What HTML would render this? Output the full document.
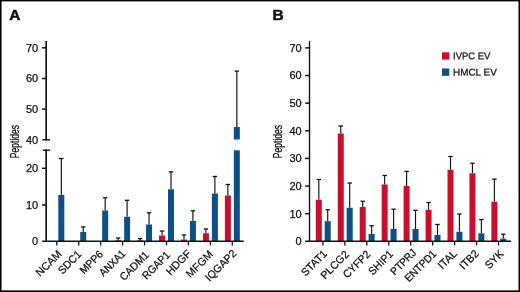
<!DOCTYPE html>
<html><head><meta charset="utf-8"><title>Figure</title>
<style>
html,body{margin:0;padding:0;background:#fff;}
svg{display:block;will-change:transform;font-family:"Liberation Sans",sans-serif;fill:#111;}
text{stroke:#111;stroke-width:0.25px;}
</style></head><body>
<svg width="520" height="292" viewBox="0 0 520 292">
<rect x="0" y="0" width="520" height="292" fill="#fff"/>
<text x="9.20" y="20.40" font-size="15.5" text-anchor="start" font-weight="bold" style="stroke-width:0.5px">A</text>
<line x1="46.15" y1="41.10" x2="46.15" y2="140.50" stroke="#111" stroke-width="1.65"/>
<line x1="42.30" y1="139.80" x2="50.00" y2="139.80" stroke="#111" stroke-width="1.4"/>
<line x1="46.15" y1="149.50" x2="46.15" y2="241.20" stroke="#111" stroke-width="1.65"/>
<line x1="42.80" y1="150.20" x2="50.00" y2="150.20" stroke="#111" stroke-width="1.4"/>
<line x1="42.00" y1="47.80" x2="46.15" y2="47.80" stroke="#111" stroke-width="1.5"/>
<text x="38.20" y="51.75" font-size="11" text-anchor="end" font-weight="normal" >70</text>
<line x1="42.00" y1="78.50" x2="46.15" y2="78.50" stroke="#111" stroke-width="1.5"/>
<text x="38.20" y="82.45" font-size="11" text-anchor="end" font-weight="normal" >60</text>
<line x1="42.00" y1="109.10" x2="46.15" y2="109.10" stroke="#111" stroke-width="1.5"/>
<text x="38.20" y="113.05" font-size="11" text-anchor="end" font-weight="normal" >50</text>
<text x="38.20" y="143.75" font-size="11" text-anchor="end" font-weight="normal" >40</text>
<line x1="42.00" y1="168.30" x2="46.15" y2="168.30" stroke="#111" stroke-width="1.5"/>
<text x="38.20" y="172.25" font-size="11" text-anchor="end" font-weight="normal" >20</text>
<line x1="42.00" y1="205.00" x2="46.15" y2="205.00" stroke="#111" stroke-width="1.5"/>
<text x="38.20" y="208.95" font-size="11" text-anchor="end" font-weight="normal" >10</text>
<text x="38.20" y="245.15" font-size="11" text-anchor="end" font-weight="normal" >0</text>
<text transform="translate(18.9,158.2) rotate(-90) scale(0.715,1)" font-size="12">Peptides</text>
<line x1="56.80" y1="241.20" x2="56.80" y2="245.40" stroke="#111" stroke-width="1.3"/>
<line x1="61.30" y1="158.50" x2="61.30" y2="195.00" stroke="#111" stroke-width="1.15"/>
<line x1="59.10" y1="158.50" x2="63.50" y2="158.50" stroke="#111" stroke-width="1.3"/>
<rect x="58.30" y="195.00" width="6.00" height="46.20" fill="#0e4f85"/>
<text transform="translate(62.40,254.60) rotate(-45)" font-size="10.8" text-anchor="end" textLength="31.80" lengthAdjust="spacingAndGlyphs">NCAM</text>
<line x1="78.74" y1="241.20" x2="78.74" y2="245.40" stroke="#111" stroke-width="1.3"/>
<line x1="83.24" y1="226.90" x2="83.24" y2="232.00" stroke="#111" stroke-width="1.15"/>
<line x1="81.04" y1="226.90" x2="85.44" y2="226.90" stroke="#111" stroke-width="1.3"/>
<rect x="80.24" y="232.00" width="6.00" height="9.20" fill="#0e4f85"/>
<text transform="translate(82.04,255.00) rotate(-45)" font-size="10.8" text-anchor="end" textLength="27.80" lengthAdjust="spacingAndGlyphs">SDC1</text>
<line x1="100.68" y1="241.20" x2="100.68" y2="245.40" stroke="#111" stroke-width="1.3"/>
<line x1="105.18" y1="197.80" x2="105.18" y2="210.50" stroke="#111" stroke-width="1.15"/>
<line x1="102.98" y1="197.80" x2="107.38" y2="197.80" stroke="#111" stroke-width="1.3"/>
<rect x="102.18" y="210.50" width="6.00" height="30.70" fill="#0e4f85"/>
<text transform="translate(103.68,255.00) rotate(-45)" font-size="10.8" text-anchor="end" textLength="27.71" lengthAdjust="spacingAndGlyphs">MPP6</text>
<line x1="122.62" y1="241.20" x2="122.62" y2="245.40" stroke="#111" stroke-width="1.3"/>
<rect x="115.17" y="240.30" width="6.00" height="0.90" fill="#c8102e"/>
<line x1="118.17" y1="238.00" x2="118.17" y2="240.50" stroke="#111" stroke-width="1.15"/>
<line x1="115.97" y1="238.00" x2="120.37" y2="238.00" stroke="#111" stroke-width="1.3"/>
<line x1="127.12" y1="200.30" x2="127.12" y2="216.80" stroke="#111" stroke-width="1.15"/>
<line x1="124.92" y1="200.30" x2="129.32" y2="200.30" stroke="#111" stroke-width="1.3"/>
<rect x="124.12" y="216.80" width="6.00" height="24.40" fill="#0e4f85"/>
<text transform="translate(126.22,254.30) rotate(-45)" font-size="10.8" text-anchor="end" textLength="32.11" lengthAdjust="spacingAndGlyphs">ANXA1</text>
<line x1="144.56" y1="241.20" x2="144.56" y2="245.40" stroke="#111" stroke-width="1.3"/>
<rect x="137.11" y="240.35" width="6.00" height="0.85" fill="#c8102e"/>
<line x1="140.11" y1="238.60" x2="140.11" y2="240.50" stroke="#111" stroke-width="1.15"/>
<line x1="137.91" y1="238.60" x2="142.31" y2="238.60" stroke="#111" stroke-width="1.3"/>
<line x1="149.06" y1="212.80" x2="149.06" y2="224.50" stroke="#111" stroke-width="1.15"/>
<line x1="146.86" y1="212.80" x2="151.26" y2="212.80" stroke="#111" stroke-width="1.3"/>
<rect x="146.06" y="224.50" width="6.00" height="16.70" fill="#0e4f85"/>
<text transform="translate(149.66,255.70) rotate(-45)" font-size="10.8" text-anchor="end" textLength="36.20" lengthAdjust="spacingAndGlyphs">CADM1</text>
<line x1="166.50" y1="241.20" x2="166.50" y2="245.40" stroke="#111" stroke-width="1.3"/>
<line x1="162.05" y1="231.00" x2="162.05" y2="235.50" stroke="#111" stroke-width="1.15"/>
<line x1="159.85" y1="231.00" x2="164.25" y2="231.00" stroke="#111" stroke-width="1.3"/>
<rect x="159.05" y="235.50" width="6.00" height="5.70" fill="#c8102e"/>
<line x1="171.00" y1="171.80" x2="171.00" y2="189.30" stroke="#111" stroke-width="1.15"/>
<line x1="168.80" y1="171.80" x2="173.20" y2="171.80" stroke="#111" stroke-width="1.3"/>
<rect x="168.00" y="189.30" width="6.00" height="51.90" fill="#0e4f85"/>
<text transform="translate(170.80,255.70) rotate(-45)" font-size="10.8" text-anchor="end" textLength="34.41" lengthAdjust="spacingAndGlyphs">RGAP1</text>
<line x1="188.44" y1="241.20" x2="188.44" y2="245.40" stroke="#111" stroke-width="1.3"/>
<line x1="183.99" y1="235.00" x2="183.99" y2="239.50" stroke="#111" stroke-width="1.15"/>
<line x1="181.79" y1="235.00" x2="186.19" y2="235.00" stroke="#111" stroke-width="1.3"/>
<rect x="180.99" y="239.50" width="6.00" height="1.70" fill="#c8102e"/>
<line x1="192.94" y1="210.80" x2="192.94" y2="221.00" stroke="#111" stroke-width="1.15"/>
<line x1="190.74" y1="210.80" x2="195.14" y2="210.80" stroke="#111" stroke-width="1.3"/>
<rect x="189.94" y="221.00" width="6.00" height="20.20" fill="#0e4f85"/>
<text transform="translate(191.74,254.30) rotate(-45)" font-size="10.8" text-anchor="end" textLength="30.20" lengthAdjust="spacingAndGlyphs">HDGF</text>
<line x1="210.38" y1="241.20" x2="210.38" y2="245.40" stroke="#111" stroke-width="1.3"/>
<line x1="205.93" y1="229.00" x2="205.93" y2="233.20" stroke="#111" stroke-width="1.15"/>
<line x1="203.73" y1="229.00" x2="208.13" y2="229.00" stroke="#111" stroke-width="1.3"/>
<rect x="202.93" y="233.20" width="6.00" height="8.00" fill="#c8102e"/>
<line x1="214.88" y1="176.50" x2="214.88" y2="193.50" stroke="#111" stroke-width="1.15"/>
<line x1="212.68" y1="176.50" x2="217.08" y2="176.50" stroke="#111" stroke-width="1.3"/>
<rect x="211.88" y="193.50" width="6.00" height="47.70" fill="#0e4f85"/>
<text transform="translate(213.68,255.00) rotate(-45)" font-size="10.8" text-anchor="end" textLength="32.99" lengthAdjust="spacingAndGlyphs">MFGM</text>
<line x1="232.32" y1="241.20" x2="232.32" y2="245.40" stroke="#111" stroke-width="1.3"/>
<line x1="227.87" y1="184.50" x2="227.87" y2="195.50" stroke="#111" stroke-width="1.15"/>
<line x1="225.67" y1="184.50" x2="230.07" y2="184.50" stroke="#111" stroke-width="1.3"/>
<rect x="224.87" y="195.50" width="6.00" height="45.70" fill="#c8102e"/>
<line x1="236.82" y1="71.10" x2="236.82" y2="127.00" stroke="#111" stroke-width="1.15"/>
<line x1="234.62" y1="71.10" x2="239.02" y2="71.10" stroke="#111" stroke-width="1.3"/>
<rect x="233.82" y="127.00" width="6.00" height="12.50" fill="#0e4f85"/>
<rect x="233.82" y="150.30" width="6.00" height="90.90" fill="#0e4f85"/>
<text transform="translate(237.22,254.20) rotate(-45)" font-size="10.8" text-anchor="end" textLength="39.22" lengthAdjust="spacingAndGlyphs">IQGAP2</text>
<text x="272.60" y="20.40" font-size="15.5" text-anchor="start" font-weight="bold" style="stroke-width:0.5px">B</text>
<line x1="309.50" y1="41.10" x2="309.50" y2="241.20" stroke="#111" stroke-width="1.4"/>
<text x="301.70" y="245.15" font-size="11" text-anchor="end" font-weight="normal" >0</text>
<line x1="305.20" y1="213.67" x2="309.50" y2="213.67" stroke="#111" stroke-width="1.5"/>
<text x="301.70" y="217.52" font-size="11" text-anchor="end" font-weight="normal" >10</text>
<line x1="305.20" y1="186.04" x2="309.50" y2="186.04" stroke="#111" stroke-width="1.5"/>
<text x="301.70" y="189.89" font-size="11" text-anchor="end" font-weight="normal" >20</text>
<line x1="305.20" y1="158.41" x2="309.50" y2="158.41" stroke="#111" stroke-width="1.5"/>
<text x="301.70" y="162.26" font-size="11" text-anchor="end" font-weight="normal" >30</text>
<line x1="305.20" y1="130.79" x2="309.50" y2="130.79" stroke="#111" stroke-width="1.5"/>
<text x="301.70" y="134.64" font-size="11" text-anchor="end" font-weight="normal" >40</text>
<line x1="305.20" y1="103.16" x2="309.50" y2="103.16" stroke="#111" stroke-width="1.5"/>
<text x="301.70" y="107.01" font-size="11" text-anchor="end" font-weight="normal" >50</text>
<line x1="305.20" y1="75.53" x2="309.50" y2="75.53" stroke="#111" stroke-width="1.5"/>
<text x="301.70" y="79.38" font-size="11" text-anchor="end" font-weight="normal" >60</text>
<line x1="305.20" y1="47.90" x2="309.50" y2="47.90" stroke="#111" stroke-width="1.5"/>
<text x="301.70" y="51.75" font-size="11" text-anchor="end" font-weight="normal" >70</text>
<text transform="translate(281.8,158.2) rotate(-90) scale(0.715,1)" font-size="12">Peptides</text>
<line x1="322.90" y1="241.20" x2="322.90" y2="245.40" stroke="#111" stroke-width="1.3"/>
<line x1="318.80" y1="179.50" x2="318.80" y2="199.75" stroke="#111" stroke-width="1.15"/>
<line x1="316.60" y1="179.50" x2="321.00" y2="179.50" stroke="#111" stroke-width="1.3"/>
<rect x="315.80" y="199.75" width="6.00" height="41.45" fill="#c8102e"/>
<line x1="327.73" y1="209.75" x2="327.73" y2="221.20" stroke="#111" stroke-width="1.15"/>
<line x1="325.53" y1="209.75" x2="329.93" y2="209.75" stroke="#111" stroke-width="1.3"/>
<rect x="324.70" y="221.20" width="6.05" height="20.00" fill="#0e4f85"/>
<text transform="translate(327.70,254.60) rotate(-45)" font-size="10.8" text-anchor="end" textLength="31.51" lengthAdjust="spacingAndGlyphs">STAT1</text>
<line x1="344.85" y1="241.20" x2="344.85" y2="245.40" stroke="#111" stroke-width="1.3"/>
<line x1="340.75" y1="126.00" x2="340.75" y2="133.50" stroke="#111" stroke-width="1.15"/>
<line x1="338.55" y1="126.00" x2="342.95" y2="126.00" stroke="#111" stroke-width="1.3"/>
<rect x="337.75" y="133.50" width="6.00" height="107.70" fill="#c8102e"/>
<line x1="349.67" y1="183.00" x2="349.67" y2="207.75" stroke="#111" stroke-width="1.15"/>
<line x1="347.47" y1="183.00" x2="351.87" y2="183.00" stroke="#111" stroke-width="1.3"/>
<rect x="346.65" y="207.75" width="6.05" height="33.45" fill="#0e4f85"/>
<text transform="translate(349.65,255.00) rotate(-45)" font-size="10.8" text-anchor="end" textLength="34.91" lengthAdjust="spacingAndGlyphs">PLCG2</text>
<line x1="366.80" y1="241.20" x2="366.80" y2="245.40" stroke="#111" stroke-width="1.3"/>
<line x1="362.70" y1="201.25" x2="362.70" y2="207.00" stroke="#111" stroke-width="1.15"/>
<line x1="360.50" y1="201.25" x2="364.90" y2="201.25" stroke="#111" stroke-width="1.3"/>
<rect x="359.70" y="207.00" width="6.00" height="34.20" fill="#c8102e"/>
<line x1="371.62" y1="225.75" x2="371.62" y2="234.00" stroke="#111" stroke-width="1.15"/>
<line x1="369.43" y1="225.75" x2="373.82" y2="225.75" stroke="#111" stroke-width="1.3"/>
<rect x="368.60" y="234.00" width="6.05" height="7.20" fill="#0e4f85"/>
<text transform="translate(371.10,255.00) rotate(-45)" font-size="10.8" text-anchor="end" textLength="33.71" lengthAdjust="spacingAndGlyphs">CYFP2</text>
<line x1="388.75" y1="241.20" x2="388.75" y2="245.40" stroke="#111" stroke-width="1.3"/>
<line x1="384.65" y1="175.50" x2="384.65" y2="184.50" stroke="#111" stroke-width="1.15"/>
<line x1="382.45" y1="175.50" x2="386.85" y2="175.50" stroke="#111" stroke-width="1.3"/>
<rect x="381.65" y="184.50" width="6.00" height="56.70" fill="#c8102e"/>
<line x1="393.58" y1="209.20" x2="393.58" y2="229.00" stroke="#111" stroke-width="1.15"/>
<line x1="391.38" y1="209.20" x2="395.78" y2="209.20" stroke="#111" stroke-width="1.3"/>
<rect x="390.55" y="229.00" width="6.05" height="12.20" fill="#0e4f85"/>
<text transform="translate(393.85,254.60) rotate(-45)" font-size="10.8" text-anchor="end" textLength="29.86" lengthAdjust="spacingAndGlyphs">SHIP1</text>
<line x1="410.70" y1="241.20" x2="410.70" y2="245.40" stroke="#111" stroke-width="1.3"/>
<line x1="406.60" y1="171.40" x2="406.60" y2="186.00" stroke="#111" stroke-width="1.15"/>
<line x1="404.40" y1="171.40" x2="408.80" y2="171.40" stroke="#111" stroke-width="1.3"/>
<rect x="403.60" y="186.00" width="6.00" height="55.20" fill="#c8102e"/>
<line x1="415.52" y1="210.25" x2="415.52" y2="229.00" stroke="#111" stroke-width="1.15"/>
<line x1="413.32" y1="210.25" x2="417.72" y2="210.25" stroke="#111" stroke-width="1.3"/>
<rect x="412.50" y="229.00" width="6.05" height="12.20" fill="#0e4f85"/>
<text transform="translate(416.90,253.50) rotate(-45)" font-size="10.8" text-anchor="end" textLength="31.30" lengthAdjust="spacingAndGlyphs">PTPRJ</text>
<line x1="432.65" y1="241.20" x2="432.65" y2="245.40" stroke="#111" stroke-width="1.3"/>
<line x1="428.55" y1="202.50" x2="428.55" y2="209.75" stroke="#111" stroke-width="1.15"/>
<line x1="426.35" y1="202.50" x2="430.75" y2="202.50" stroke="#111" stroke-width="1.3"/>
<rect x="425.55" y="209.75" width="6.00" height="31.45" fill="#c8102e"/>
<line x1="437.48" y1="224.50" x2="437.48" y2="235.00" stroke="#111" stroke-width="1.15"/>
<line x1="435.28" y1="224.50" x2="439.68" y2="224.50" stroke="#111" stroke-width="1.3"/>
<rect x="434.45" y="235.00" width="6.05" height="6.20" fill="#0e4f85"/>
<text transform="translate(436.95,254.60) rotate(-45)" font-size="10.8" text-anchor="end" textLength="39.51" lengthAdjust="spacingAndGlyphs">ENTPD1</text>
<line x1="454.60" y1="241.20" x2="454.60" y2="245.40" stroke="#111" stroke-width="1.3"/>
<line x1="450.50" y1="156.50" x2="450.50" y2="169.75" stroke="#111" stroke-width="1.15"/>
<line x1="448.30" y1="156.50" x2="452.70" y2="156.50" stroke="#111" stroke-width="1.3"/>
<rect x="447.50" y="169.75" width="6.00" height="71.45" fill="#c8102e"/>
<line x1="459.42" y1="214.00" x2="459.42" y2="231.80" stroke="#111" stroke-width="1.15"/>
<line x1="457.22" y1="214.00" x2="461.62" y2="214.00" stroke="#111" stroke-width="1.3"/>
<rect x="456.40" y="231.80" width="6.05" height="9.40" fill="#0e4f85"/>
<text transform="translate(457.60,254.30) rotate(-45)" font-size="10.8" text-anchor="end" textLength="21.71" lengthAdjust="spacingAndGlyphs">ITAL</text>
<line x1="476.55" y1="241.20" x2="476.55" y2="245.40" stroke="#111" stroke-width="1.3"/>
<line x1="472.45" y1="163.25" x2="472.45" y2="173.25" stroke="#111" stroke-width="1.15"/>
<line x1="470.25" y1="163.25" x2="474.65" y2="163.25" stroke="#111" stroke-width="1.3"/>
<rect x="469.45" y="173.25" width="6.00" height="67.95" fill="#c8102e"/>
<line x1="481.38" y1="219.60" x2="481.38" y2="233.30" stroke="#111" stroke-width="1.15"/>
<line x1="479.18" y1="219.60" x2="483.57" y2="219.60" stroke="#111" stroke-width="1.3"/>
<rect x="478.35" y="233.30" width="6.05" height="7.90" fill="#0e4f85"/>
<text transform="translate(479.55,254.30) rotate(-45)" font-size="10.8" text-anchor="end" textLength="22.41" lengthAdjust="spacingAndGlyphs">ITB2</text>
<line x1="498.50" y1="241.20" x2="498.50" y2="245.40" stroke="#111" stroke-width="1.3"/>
<line x1="494.40" y1="179.10" x2="494.40" y2="201.75" stroke="#111" stroke-width="1.15"/>
<line x1="492.20" y1="179.10" x2="496.60" y2="179.10" stroke="#111" stroke-width="1.3"/>
<rect x="491.40" y="201.75" width="6.00" height="39.45" fill="#c8102e"/>
<line x1="503.33" y1="234.20" x2="503.33" y2="238.60" stroke="#111" stroke-width="1.15"/>
<line x1="501.13" y1="234.20" x2="505.53" y2="234.20" stroke="#111" stroke-width="1.3"/>
<rect x="500.30" y="238.60" width="6.05" height="2.60" fill="#0e4f85"/>
<text transform="translate(504.20,254.40) rotate(-45)" font-size="10.8" text-anchor="end" textLength="21.31" lengthAdjust="spacingAndGlyphs">SYK</text>
<rect x="442.00" y="52.30" width="7.30" height="7.30" fill="#c8102e"/>
<rect x="442.00" y="68.50" width="7.30" height="7.40" fill="#0e4f85"/>
<text x="453.00" y="59.30" font-size="9.7" text-anchor="start" font-weight="normal" transform="rotate(0.03 453 59.3)" textLength="37.4" lengthAdjust="spacingAndGlyphs">IVPC EV</text>
<text x="453.00" y="75.60" font-size="9.7" text-anchor="start" font-weight="normal" transform="rotate(0.03 453 75.6)" textLength="43.8" lengthAdjust="spacingAndGlyphs">HMCL EV</text>
<line x1="42.20" y1="241.20" x2="243.80" y2="241.20" stroke="#111" stroke-width="1.6"/>
<line x1="305.20" y1="241.20" x2="511.00" y2="241.20" stroke="#111" stroke-width="1.6"/>
<rect x="0.00" y="0.00" width="520.00" height="1.40" fill="#000"/>
<rect x="0.00" y="0.00" width="1.55" height="292.00" fill="#000"/>
<rect x="518.50" y="0.00" width="1.50" height="292.00" fill="#000"/>
<rect x="0.00" y="290.40" width="520.00" height="1.60" fill="#000"/>
</svg>
</body></html>
